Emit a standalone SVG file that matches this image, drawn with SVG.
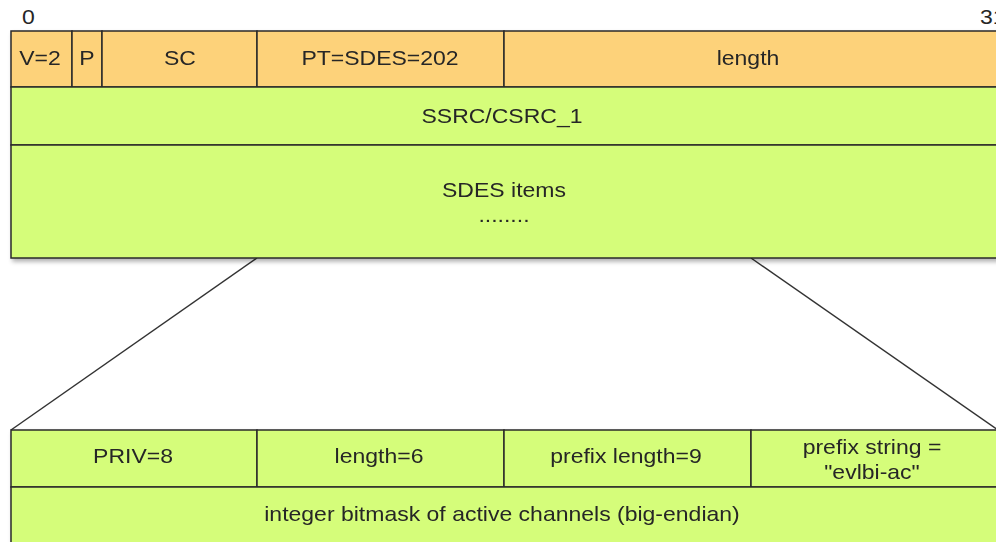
<svg xmlns="http://www.w3.org/2000/svg" width="996" height="542" viewBox="0 0 996 542">
  <style>
    .hdr { fill: #fdd27a; stroke: #2a2a2a; stroke-width: 1.5; }
    .fld { fill: #d5fd7a; stroke: #2a2a2a; stroke-width: 1.5; }
    .lbl { font-family: "Liberation Sans", Arial, sans-serif; font-size: 20px; fill: #262626; text-anchor: middle; }
    .conn { stroke: #333; stroke-width: 1.5; fill: none; }
  </style>
  <defs>
    <filter id="shadow" x="-5%" y="-5%" width="110%" height="120%">
      <feDropShadow dx="2" dy="3" stdDeviation="2" flood-color="#000" flood-opacity="0.3"/>
    </filter>
  </defs>

  <rect width="996" height="542" fill="#ffffff"/>

  <!-- labels are drawn 15% wider than the font: matrix(1.15 0 0 1 -0.15*x 0) keeps x as the centre -->

  <!-- bit ruler -->
  <g id="ruler">
    <text class="lbl" x="28.5" y="24" transform="matrix(1.15 0 0 1 -4.3 0)">0</text>
    <text class="lbl" x="980" y="24" style="text-anchor:start" transform="matrix(1.15 0 0 1 -147 0)">31</text>
  </g>

  <!-- connectors: zoom lines from SDES items to item detail -->
  <g id="connectors">
    <line class="conn" x1="257" y1="258" x2="11" y2="430"/>
    <line class="conn" x1="751" y1="258" x2="998" y2="430"/>
  </g>

  <!-- RTCP SDES packet -->
  <g id="packet" filter="url(#shadow)">
    <g id="hdr-v">
      <rect class="hdr" x="11" y="31" width="61" height="56"/>
      <text class="lbl" x="40" y="65" transform="matrix(1.15 0 0 1 -6 0)">V=2</text>
    </g>
    <g id="hdr-p">
      <rect class="hdr" x="72" y="31" width="30" height="56"/>
      <text class="lbl" x="87" y="65" transform="matrix(1.15 0 0 1 -13.05 0)">P</text>
    </g>
    <g id="hdr-sc">
      <rect class="hdr" x="102" y="31" width="155" height="56"/>
      <text class="lbl" x="180" y="65" transform="matrix(1.15 0 0 1 -27 0)">SC</text>
    </g>
    <g id="hdr-pt">
      <rect class="hdr" x="257" y="31" width="247" height="56"/>
      <text class="lbl" x="380" y="65" transform="matrix(1.15 0 0 1 -57 0)">PT=SDES=202</text>
    </g>
    <g id="hdr-length">
      <rect class="hdr" x="504" y="31" width="494" height="56"/>
      <text class="lbl" x="748" y="65" transform="matrix(1.15 0 0 1 -112.2 0)">length</text>
    </g>
    <g id="ssrc">
      <rect class="fld" x="11" y="87" width="987" height="58"/>
      <text class="lbl" x="502" y="123" transform="matrix(1.15 0 0 1 -75.3 0)">SSRC/CSRC_1</text>
    </g>
    <g id="sdes-items">
      <rect class="fld" x="11" y="145" width="987" height="113"/>
      <text class="lbl" x="504" y="197" transform="matrix(1.15 0 0 1 -75.6 0)">SDES items</text>
      <text class="lbl" x="504" y="222" transform="matrix(1.15 0 0 1 -75.6 0)">........</text>
    </g>
  </g>

  <!-- PRIV SDES item detail -->
  <g id="item" filter="url(#shadow)">
    <g id="priv">
      <rect class="fld" x="11" y="430" width="246" height="57"/>
      <text class="lbl" x="133" y="463" transform="matrix(1.15 0 0 1 -19.95 0)">PRIV=8</text>
    </g>
    <g id="item-length">
      <rect class="fld" x="257" y="430" width="247" height="57"/>
      <text class="lbl" x="379" y="463" transform="matrix(1.15 0 0 1 -56.85 0)">length=6</text>
    </g>
    <g id="prefix-length">
      <rect class="fld" x="504" y="430" width="247" height="57"/>
      <text class="lbl" x="626" y="463" transform="matrix(1.15 0 0 1 -93.9 0)">prefix length=9</text>
    </g>
    <g id="prefix-string">
      <rect class="fld" x="751" y="430" width="247" height="57"/>
      <text class="lbl" x="872" y="454" transform="matrix(1.15 0 0 1 -130.8 0)">prefix string =</text>
      <text class="lbl" x="872" y="479" transform="matrix(1.15 0 0 1 -130.8 0)">"evlbi-ac"</text>
    </g>
    <g id="bitmask">
      <rect class="fld" x="11" y="487" width="987" height="60"/>
      <text class="lbl" x="502" y="521" transform="matrix(1.15 0 0 1 -75.3 0)">integer bitmask of active channels (big-endian)</text>
    </g>
  </g>
</svg>
